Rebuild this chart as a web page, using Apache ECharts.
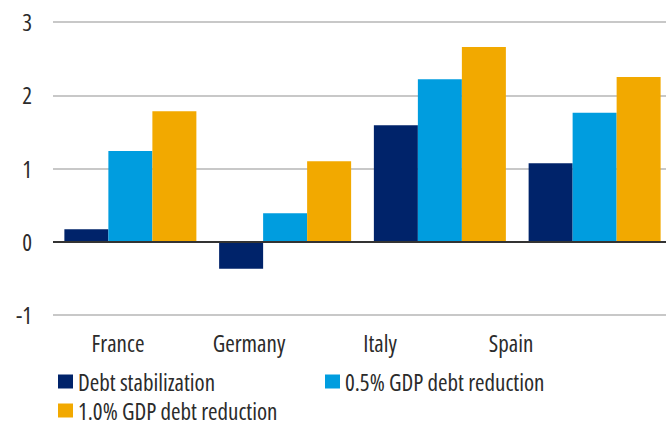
<!DOCTYPE html>
<html>
<head>
<meta charset="utf-8">
<script src="https://cdn.jsdelivr.net/npm/echarts@6/dist/echarts.min.js"></script>
<style>
html,body{margin:0;padding:0;background:#fff;overflow:hidden}
#wrap{width:666px;height:423px;overflow:hidden}
#c{width:672px;height:423px}
#c text{font-stretch:condensed !important;}
</style>
</head>
<body>
<div id="wrap"><div id="c"></div></div>
<script>
const categories = ['France', 'Germany', 'Italy', 'Spain'];
const seriesNames = ['Debt stabilization', '0.5% GDP debt reduction', '1.0% GDP debt reduction'];
const debtStabilization = [0.17, -0.37, 1.59, 1.07];
const reduction05 = [1.24, 0.39, 2.22, 1.76];
const reduction10 = [1.78, 1.10, 2.66, 2.25];
const yTicks = [-1, 0, 1, 2, 3];

const FONT = '"Open Sans", sans-serif';
const FS = 23;
const FW = 400;
const TXT = '#2b2b2b';
const colors = ['#00236a', '#009ddf', '#f2a900'];
const chart = echarts.init(document.getElementById('c'), null, {renderer: 'svg'});
const legendText = {fontFamily: FONT, fontSize: FS, fontWeight: FW, color: TXT, lineHeight: 20};
const legendBase = {itemWidth: 15, itemHeight: 14, icon: 'rect', textStyle: legendText, padding: 0};
chart.setOption({
  animation: false,
  grid: [
    {left: 53, right: 0, top: 22, height: 293},
    {left: 52.5, width: 524, top: 22, height: 293}
  ],
  legend: [
    Object.assign({data: [seriesNames[0]], left: 58, top: 370}, legendBase),
    Object.assign({data: [seriesNames[1]], left: 325, top: 370}, legendBase),
    Object.assign({data: [seriesNames[2]], left: 58, top: 399}, legendBase)
  ],
  xAxis: [
    {type: 'category', gridIndex: 0, data: categories, axisLabel: {show: false}, axisTick: {show: false}, axisLine: {show: false}},
    {type: 'category', gridIndex: 1, data: categories, axisTick: {show: false}, axisLine: {show: false},
     axisLabel: {fontFamily: FONT, fontSize: FS, fontWeight: FW, color: TXT, margin: 16}}
  ],
  yAxis: [
    {type: 'value', gridIndex: 0, min: yTicks[0], max: yTicks[yTicks.length - 1], interval: 1,
     axisLabel: {fontFamily: FONT, fontSize: FS, fontWeight: FW, color: TXT, margin: 21},
     axisLine: {show: false}, axisTick: {show: false},
     splitLine: {lineStyle: {color: '#c8c8c8', width: 2}}},
    {type: 'value', gridIndex: 1, min: -1, max: 3, show: false, splitLine: {show: false}}
  ],
  series: [
    {name: seriesNames[0], type: 'bar', data: debtStabilization, itemStyle: {color: colors[0]}, barGap: '0%', barCategoryGap: '14.7%',
     markLine: {silent: true, symbol: 'none', label: {show: false}, lineStyle: {color: '#333', width: 2, type: 'solid'}, data: [{yAxis: 0}]}},
    {name: seriesNames[1], type: 'bar', data: reduction05, itemStyle: {color: colors[1]}, barGap: '0%', barCategoryGap: '14.7%'},
    {name: seriesNames[2], type: 'bar', data: reduction10, itemStyle: {color: colors[2]}, barGap: '0%', barCategoryGap: '14.7%'}
  ]
});
</script>
</body>
</html>
